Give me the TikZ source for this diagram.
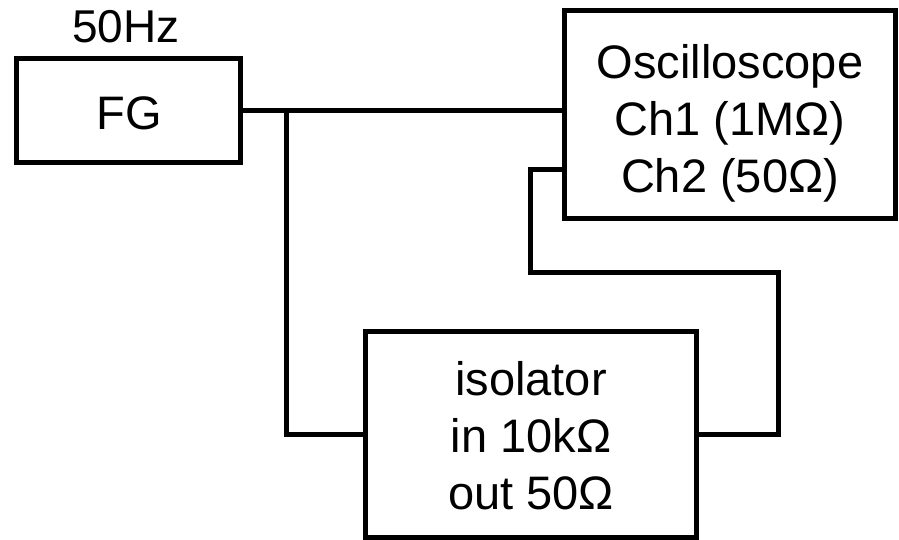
\documentclass[tikz,border=0pt]{standalone}
\usepackage{fontspec}
\setmainfont{Liberation Sans}
\begin{document}
\begin{tikzpicture}[x=1bp,y=-1bp,
  box/.style={draw, line width=5bp, rectangle, inner sep=0pt},
  lbl/.style={inner sep=0pt, align=center, font=\fontsize{47bp}{57bp}\selectfont},
  wire/.style={line width=5bp, line cap=rect}]
\useasboundingbox (0,0) rectangle (899,540);
\node[box, minimum width=223bp, minimum height=104bp] (fg) at (128.5,111) {};
\node[lbl] (fgtxt) at (129,113.5) {FG};
\node[lbl, font=\fontsize{46bp}{52bp}\selectfont] (hz) at (126,26.5) {50Hz};
\node[box, minimum width=331bp, minimum height=208bp] (osc) at (729.5,115) {};
\node[lbl] (osctxt) at (730,123) {Oscilloscope\\Ch1 (1MΩ)\\Ch2 (50Ω)};
\node[box, minimum width=331bp, minimum height=205bp] (iso) at (530.5,434.5) {};
\node[lbl] (isotxt) at (531,435.5) {isolator\\in 10kΩ\\out 50Ω};
\coordinate (j1) at (286,111);
\coordinate (c1) at (778,273);
\coordinate (c2) at (530,170);
\draw[wire] (fg.east) -- (fg.east -| osc.west);
\draw[wire] (j1) |- (iso.west);
\draw[wire] (iso.east) -| (c1) -| (c2) -- (c2 -| osc.west);
\end{tikzpicture}
\end{document}
